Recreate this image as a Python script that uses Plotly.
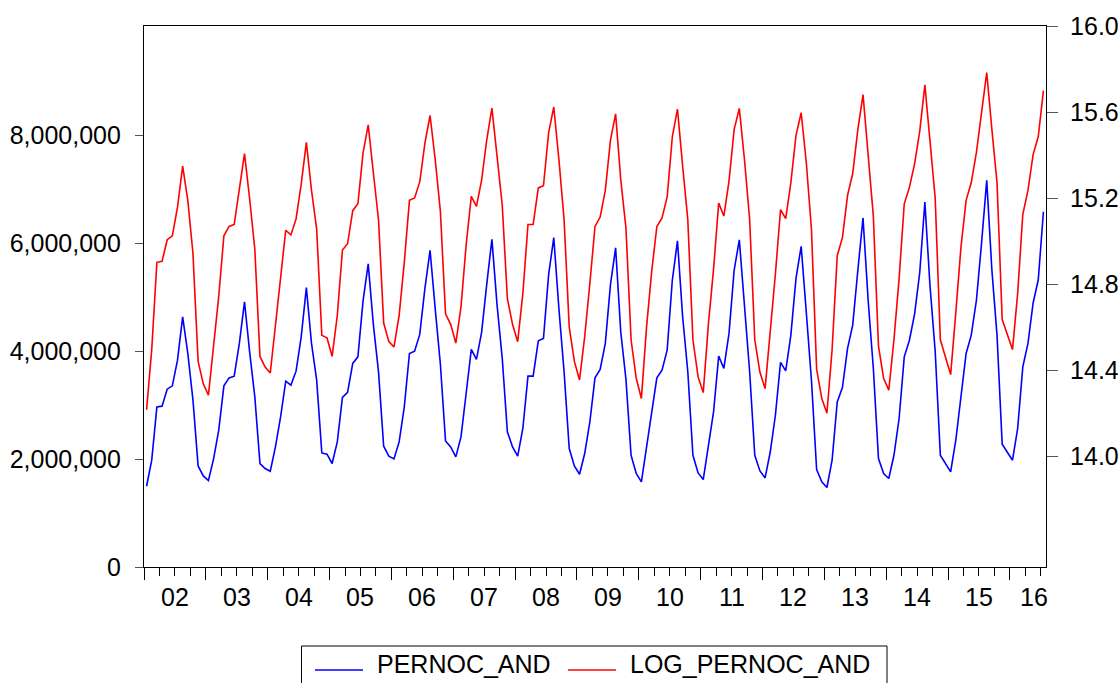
import numpy as np
import plotly.graph_objects as go

# Monthly observations, 2002M01 .. 2016M07
start_year = 2002
year_labels = ["02", "03", "04", "05", "06", "07", "08", "09", "10", "11", "12", "13", "14", "15", "16"]

pernoc_and = [
    1496000, 1978000, 2966000, 2979000, 3294000, 3355000, 3831000, 4634000, 3955000, 3090000, 1872000, 1687000,  # 2002
    1601000, 2002000, 2534000, 3355000, 3503000, 3535000, 4141000, 4912000, 3980000, 3151000, 1916000, 1824000,  # 2003
    1774000, 2224000, 2780000, 3442000, 3368000, 3627000, 4263000, 5175000, 4141000, 3460000, 2113000, 2089000,  # 2004
    1917000, 2317000, 3140000, 3233000, 3770000, 3892000, 4930000, 5615000, 4490000, 3615000, 2237000, 2052000,  # 2005
    2002000, 2317000, 2966000, 3955000, 3998000, 4308000, 5160000, 5865000, 4780000, 3760000, 2335000, 2224000,  # 2006
    2039000, 2410000, 3214000, 4030000, 3844000, 4345000, 5240000, 6070000, 4850000, 3870000, 2505000, 2224000,  # 2007
    2052000, 2565000, 3535000, 3535000, 4190000, 4233000, 5410000, 6100000, 4780000, 3620000, 2195000, 1872000,  # 2008
    1718000, 2102000, 2688000, 3503000, 3659000, 4141000, 5230000, 5910000, 4350000, 3480000, 2070000, 1731000,  # 2009
    1576000, 2195000, 2843000, 3503000, 3646000, 4017000, 5310000, 6040000, 4640000, 3620000, 2070000, 1742000,  # 2010
    1620000, 2224000, 2873000, 3905000, 3677000, 4326000, 5500000, 6060000, 4780000, 3620000, 2070000, 1780000,  # 2011
    1650000, 2130000, 2810000, 3790000, 3633000, 4295000, 5350000, 5940000, 4710000, 3450000, 1805000, 1576000,  # 2012
    1472000, 1978000, 3058000, 3325000, 4048000, 4480000, 5500000, 6465000, 4930000, 3680000, 2009000, 1731000,  # 2013
    1639000, 2070000, 2750000, 3892000, 4200000, 4684000, 5450000, 6760000, 5200000, 4000000, 2070000, 1917000,  # 2014
    1761000, 2348000, 3180000, 3955000, 4295000, 4940000, 6000000, 7160000, 5500000, 4290000, 2274000, 2130000,  # 2015
    1978000, 2565000, 3707000, 4141000, 4890000, 5320000, 6580000,                                                # 2016
]

name_level = "PERNOC_AND"
name_log = "LOG_PERNOC_AND"

left_ticks = [0, 2000000, 4000000, 6000000, 8000000]
right_ticks = [14.0, 14.4, 14.8, 15.2, 15.6, 16.0]

n = len(pernoc_and)
t = np.arange(n)
level = np.array(pernoc_and, dtype=float)
log_level = np.log(level)

BLUE = "#0000FF"
RED = "#FF0000"
FONT = "Liberation Sans, Arial, sans-serif"

fig = go.Figure()
fig.add_trace(go.Scatter(x=t, y=level, mode="lines", name=name_level,
                         line=dict(color=BLUE, width=1.6), yaxis="y"))
fig.add_trace(go.Scatter(x=t, y=log_level, mode="lines", name=name_log,
                         line=dict(color=RED, width=1.6), yaxis="y2"))

n_years = len(year_labels)
major = [-0.5 + 12 * k for k in range(n_years)]
minor = [-0.5 + 3 * j for j in range(int(n / 3) + 1) if (3 * j) % 12 != 0 and -0.5 + 3 * j < n - 0.5]

fig.update_layout(
    width=1118, height=683,
    margin=dict(l=144, r=72, t=26, b=116, autoexpand=False),
    paper_bgcolor="white", plot_bgcolor="white",
    showlegend=False,
    font=dict(family=FONT, size=24, color="black"),
    xaxis=dict(
        range=[-0.5, n - 0.5], showgrid=False, zeroline=False, automargin=False,
        showline=True, linecolor="black", linewidth=1.2, mirror=True,
        tickmode="array", tickvals=major, showticklabels=False,
        ticks="outside", ticklen=12, tickwidth=1, tickcolor="black",
        minor=dict(tickmode="array", tickvals=minor, ticks="outside",
                   ticklen=8, tickwidth=1, tickcolor="black", showgrid=False),
    ),
    yaxis=dict(
        range=[0, 10020000], showgrid=False, zeroline=False, automargin=False,
        showline=True, linecolor="black", linewidth=1.2,
        tickmode="array", tickvals=left_ticks, tickformat=",d",
        ticks="outside", ticklen=8, tickwidth=1, tickcolor="#555555",
        ticklabelstandoff=9,
        tickfont=dict(family=FONT, size=25, color="black"),
    ),
    yaxis2=dict(
        range=[13.488, 16.0], overlaying="y", side="right", automargin=False,
        showgrid=False, zeroline=False,
        showline=True, linecolor="black", linewidth=1.2,
        tickmode="array", tickvals=right_ticks, tickformat=".1f",
        ticks="outside", ticklen=11, tickwidth=1, tickcolor="#555555",
        ticklabelstandoff=7,
        tickfont=dict(family=FONT, size=25, color="black"),
    ),
)

# year labels centred in each year (last partial year kept inside the axis)
for k, lab in enumerate(year_labels):
    xc = 12 * k + 5.5
    xc = min(xc, n - 0.5 - 2.3)
    fig.add_annotation(x=xc, xref="x", y=0, yref="paper", yanchor="top",
                       yshift=-14, text=lab, showarrow=False,
                       font=dict(family=FONT, size=25, color="black"))

# legend box drawn below the axis
W = 1118 - 144 - 72
H = 683 - 26 - 116
def px(xp):
    return (xp - 144) / W
def py(yp):
    return (683 - 116 - yp) / H

fig.add_shape(type="rect", xref="paper", yref="paper",
              x0=px(301.5), x1=px(887), y0=py(646), y1=py(700),
              line=dict(color="black", width=1), fillcolor="white", layer="above")
legend_items = [(name_level, BLUE, 315, 375), (name_log, RED, 568, 628)]
for name, col, lx, tx in legend_items:
    fig.add_shape(type="line", xref="paper", yref="paper",
                  x0=px(lx), x1=px(lx + 48), y0=py(670), y1=py(670),
                  line=dict(color=col, width=1.6))
    fig.add_annotation(x=px(tx), xref="paper", y=py(664), yref="paper",
                       xanchor="left", yanchor="middle", text=name, showarrow=False,
                       font=dict(family=FONT, size=25, color="black"))

fig.write_html("out.html")
